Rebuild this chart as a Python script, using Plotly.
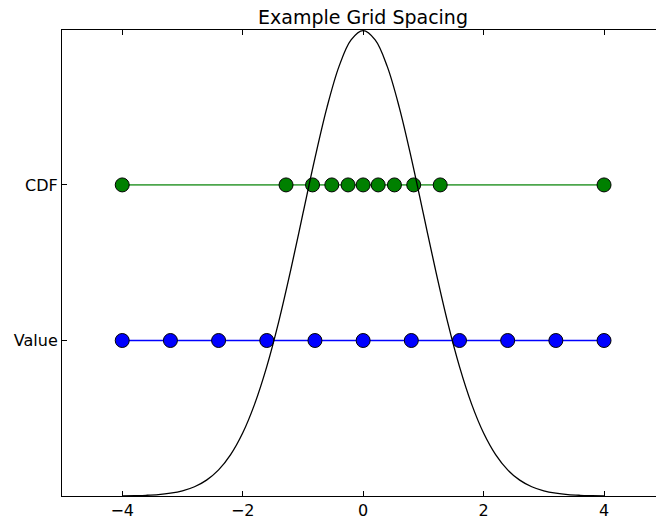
import plotly.graph_objects as go

# Normal pdf curve samples (x, y)
curve_x = [-4.0, -3.8, -3.6, -3.4, -3.2, -3.0, -2.8, -2.6, -2.4, -2.2, -2.0, -1.8, -1.6, -1.4, -1.2, -1.0,
           -0.8, -0.6, -0.4, -0.2, 0.0, 0.2, 0.4, 0.6, 0.8, 1.0, 1.2, 1.4, 1.6, 1.8, 2.0, 2.2, 2.4,
           2.6, 2.8, 3.0, 3.2, 3.4, 3.6, 3.8, 4.0]
curve_y = [0.0001, 0.0003, 0.0006, 0.0012, 0.0024, 0.0044, 0.0079, 0.0136, 0.0224, 0.0355, 0.0540,
           0.0790, 0.1109, 0.1497, 0.1942, 0.2420, 0.2897, 0.3332, 0.3683, 0.3910, 0.3989, 0.3910,
           0.3683, 0.3332, 0.2897, 0.2420, 0.1942, 0.1497, 0.1109, 0.0790, 0.0540, 0.0355, 0.0224,
           0.0136, 0.0079, 0.0044, 0.0024, 0.0012, 0.0006, 0.0003, 0.0001]

# Grid points
value_x = [-4.0, -3.2, -2.4, -1.6, -0.8, 0.0, 0.8, 1.6, 2.4, 3.2, 4.0]
cdf_x = [-4.0, -1.28, -0.84, -0.52, -0.25, 0.0, 0.25, 0.52, 0.84, 1.28, 4.0]

tick_labels = ["Value", "CDF"]
tick_levels = [0.1333, 0.2667]
value_level = tick_levels[0]
cdf_level = tick_levels[1]

fig = go.Figure()

fig.add_trace(go.Scatter(
    x=cdf_x, y=[cdf_level] * len(cdf_x), mode="lines+markers",
    line=dict(color="rgba(0,128,0,0.7)", width=1.8),
    marker=dict(color="#008000", size=14, line=dict(color="black", width=1)),
    showlegend=False, hoverinfo="skip"))

fig.add_trace(go.Scatter(
    x=value_x, y=[value_level] * len(value_x), mode="lines+markers",
    line=dict(color="#0000ff", width=1.5),
    marker=dict(color="#0000ff", size=14, line=dict(color="black", width=1)),
    showlegend=False, hoverinfo="skip"))

fig.add_trace(go.Scatter(
    x=curve_x, y=curve_y, mode="lines", line=dict(color="black", width=1.3, shape="spline"),
    showlegend=False, hoverinfo="skip"))

fig.update_layout(
    width=656, height=520,
    margin=dict(l=62, r=0, t=30, b=24),
    paper_bgcolor="white", plot_bgcolor="white",
    font=dict(family="DejaVu Sans", size=16, color="black"),
    title=dict(text="Example Grid Spacing", x=(363 - 62) / (656 - 62), xref="paper", xanchor="center",
               y=1 - 17 / 520, yref="container", yanchor="middle",
               font=dict(size=19, family="DejaVu Sans", color="black")),
    xaxis=dict(range=[-5, 4.863], tickvals=[-4, -2, 0, 2, 4],
               ticktext=["\u22124", "\u22122", "0", "2", "4"],
               showgrid=False, zeroline=False, showline=True, linecolor="black", linewidth=1,
               mirror="ticks", ticks="inside", ticklen=5, tickcolor="black", tickwidth=1),
    yaxis=dict(range=[0, 0.3995], tickvals=tick_levels, ticktext=tick_labels,
               showgrid=False, zeroline=False, showline=True, linecolor="black", linewidth=1,
               ticks="inside", ticklen=5, tickcolor="black", tickwidth=1),
)

fig.write_html("out.html")
